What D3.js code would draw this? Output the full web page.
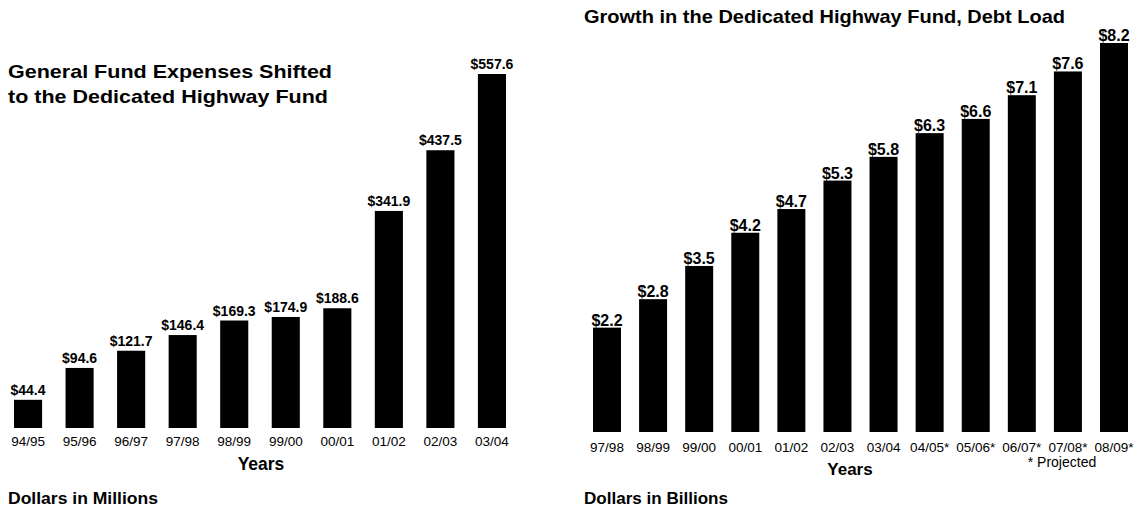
<!DOCTYPE html>
<html>
<head>
<meta charset="utf-8">
<script src="https://cdn.jsdelivr.net/npm/d3@7"></script>
<style>
  body { margin: 0; background: #fff; }
  text { font-family: Arial, "Liberation Sans", sans-serif; fill: #000; }
</style>
</head>
<body>
<div id="chart"></div>
<script>
// Data
//=================================
var leftYears = ["94/95", "95/96", "96/97", "97/98", "98/99", "99/00", "00/01", "01/02", "02/03", "03/04"];
var leftValues = [44.4, 94.6, 121.7, 146.4, 169.3, 174.9, 188.6, 341.9, 437.5, 557.6];

var rightYears = ["97/98", "98/99", "99/00", "00/01", "01/02", "02/03", "03/04", "04/05*", "05/06*", "06/07*", "07/08*", "08/09*"];
var rightValues = [2.2, 2.8, 3.5, 4.2, 4.7, 5.3, 5.8, 6.3, 6.6, 7.1, 7.6, 8.2];

var svgWidth = 1136;
var svgHeight = 508;

var svg = d3.select("#chart")
  .append("svg")
  .attr("width", svgWidth)
  .attr("height", svgHeight);

// helper for the wide bold labels (reference font is a bit stretched)
function label(g, x, y, size, str, len) {
  var t = g.append("text")
    .attr("x", x)
    .attr("y", y)
    .style("font-size", size + "px")
    .style("font-weight", "bold")
    .text(str);
  if (len) {
    t.attr("textLength", len).attr("lengthAdjust", "spacingAndGlyphs");
  }
  return t;
}

// Left chart: General fund expenses
//=================================
var leftX = d3.scaleBand()
  .domain(leftYears)
  .range([14, 506])
  .paddingInner(0.455)
  .paddingOuter(0);

var leftY = d3.scaleLinear()
  .domain([0, 557.6])
  .range([428, 74]);

var left = svg.append("g");

left.selectAll("rect")
  .data(leftValues)
  .enter()
  .append("rect")
  .attr("x", (d, i) => leftX(leftYears[i]))
  .attr("y", d => leftY(d))
  .attr("width", leftX.bandwidth())
  .attr("height", d => leftY(0) - leftY(d))
  .attr("fill", "#000");

left.selectAll(".val")
  .data(leftValues)
  .enter()
  .append("text")
  .attr("class", "val")
  .attr("x", (d, i) => leftX(leftYears[i]) + leftX.bandwidth() / 2)
  .attr("y", d => leftY(d) - 5)
  .attr("text-anchor", "middle")
  .style("font-size", "14px")
  .style("font-weight", "bold")
  .text(d => "$" + d.toFixed(1));

// x axis, no line or ticks
var leftAxis = left.append("g")
  .attr("transform", "translate(0, 436)")
  .call(d3.axisBottom(leftX).tickSize(0).tickPadding(0));
leftAxis.select(".domain").remove();
leftAxis.selectAll("text")
  .attr("dy", "0.75em")
  .style("font-size", "13.5px")
  .style("font-family", "Arial, 'Liberation Sans', sans-serif");

label(left, 261, 470, 17.5, "Years").attr("text-anchor", "middle");

label(left, 8, 77.5, 19, "General Fund Expenses Shifted", 324);
label(left, 8, 103, 19, "to the Dedicated Highway Fund", 320);

label(left, 8, 504, 16, "Dollars in Millions", 150);

// Right chart: debt load
//=================================
var rightX = d3.scaleBand()
  .domain(rightYears)
  .range([593, 1128])
  .paddingInner(1 - 28 / 46.1)
  .paddingOuter(0);

var rightY = d3.scaleLinear()
  .domain([0, 8.2])
  .range([432, 43]);

var right = svg.append("g");

right.selectAll("rect")
  .data(rightValues)
  .enter()
  .append("rect")
  .attr("x", (d, i) => rightX(rightYears[i]))
  .attr("y", d => rightY(d))
  .attr("width", rightX.bandwidth())
  .attr("height", d => rightY(0) - rightY(d))
  .attr("fill", "#000");

right.selectAll(".val")
  .data(rightValues)
  .enter()
  .append("text")
  .attr("class", "val")
  .attr("x", (d, i) => rightX(rightYears[i]) + rightX.bandwidth() / 2)
  .attr("y", d => rightY(d) - 2)
  .attr("text-anchor", "middle")
  .style("font-size", "16px")
  .style("font-weight", "bold")
  .text(d => "$" + d.toFixed(1));

var rightAxis = right.append("g")
  .attr("transform", "translate(0, 442)")
  .call(d3.axisBottom(rightX).tickSize(0).tickPadding(0));
rightAxis.select(".domain").remove();
rightAxis.selectAll("text")
  .attr("dy", "0.75em")
  .style("font-size", "13.5px")
  .style("font-family", "Arial, 'Liberation Sans', sans-serif");

label(right, 850, 475, 17, "Years").attr("text-anchor", "middle");

right.append("text")
  .attr("x", 1062)
  .attr("y", 467)
  .attr("text-anchor", "middle")
  .style("font-size", "14px")
  .text("* Projected");

label(right, 584, 22.5, 19, "Growth in the Dedicated Highway Fund, Debt Load", 481);

label(right, 584, 504, 16, "Dollars in Billions", 144);
</script>
</body>
</html>
